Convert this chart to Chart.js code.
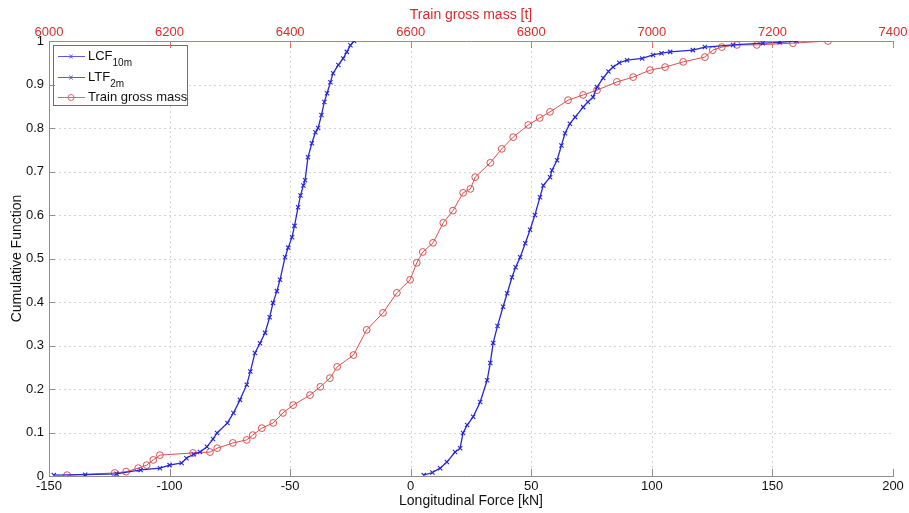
<!DOCTYPE html>
<html><head><meta charset="utf-8">
<script src="https://cdn.jsdelivr.net/npm/chart.js@4.4.0/dist/chart.umd.min.js"></script>
<style>html,body{margin:0;padding:0;background:#fff;}#wrap{position:relative;width:909px;height:513px;}</style>
</head><body><div id="wrap"><canvas id="c" width="909" height="513"></canvas></div>
<script>
// ---- data ----
const forceTicks = [-150,-100,-50,0,50,100,150,200];
const massTicks = [6000,6200,6400,6600,6800,7000,7200,7400];
const cumTicks = [0,0.1,0.2,0.3,0.4,0.5,0.6,0.7,0.8,0.9,1];

const lcfForce = [-148,-135,-122,-112,-104,-100,-95,-93,-90,-87.4,-84.5,-82,-80.3,-76,-73.5,-70.8,-68,-66.5,-64.6,-62.5,-60.4,-58.5,-57.1,-55.5,-54.2,-52.1,-50.8,-49.2,-48.2,-46.7,-45.7,-44.5,-43.8,-42.6,-41,-39.5,-38.4,-37,-35.8,-34.7,-33.3,-32.2,-30,-28,-26.5,-25,-23.5];
const lcfCum = [0.002,0.003,0.005,0.014,0.018,0.025,0.03,0.041,0.05,0.055,0.067,0.085,0.099,0.122,0.145,0.175,0.21,0.24,0.283,0.305,0.329,0.365,0.398,0.425,0.451,0.503,0.525,0.549,0.575,0.618,0.645,0.668,0.68,0.733,0.765,0.79,0.8,0.83,0.86,0.88,0.905,0.926,0.945,0.96,0.975,0.99,1.0];

const ltfForce = [5.4,9,12.2,15,18.4,20.5,21.7,23.4,25.9,28.8,31.7,33,34.2,36,38.3,40,42,43.5,45.4,47.5,49.5,51.5,53.6,55,57.8,58.6,60.7,62.5,64,66,68.2,71.5,73.5,75.6,77.3,79.8,82,83.9,86.5,89.7,96,100.5,104,107.6,117,122,133.7,146,153,160];
const ltfCum = [0.002,0.008,0.018,0.032,0.055,0.064,0.099,0.117,0.136,0.17,0.22,0.26,0.306,0.345,0.389,0.42,0.457,0.48,0.503,0.535,0.566,0.6,0.641,0.668,0.687,0.703,0.726,0.76,0.788,0.81,0.825,0.848,0.86,0.871,0.894,0.915,0.93,0.94,0.95,0.956,0.96,0.968,0.972,0.975,0.979,0.986,0.991,0.995,0.997,1.0];

const trainMass = [6030,6109,6128,6148,6162,6173,6184,6239,6267,6279,6305,6328,6338,6353,6372,6388,6405,6433,6450,6466,6478,6505,6527,6554,6577,6599,6610,6620,6637,6654,6670,6687,6699,6707,6732,6751,6770,6795,6814,6831,6861,6886,6909,6942,6969,6997,7022,7052,7088,7101,7116,7141,7174,7234,7292];
const massCum = [0.002,0.007,0.01,0.018,0.025,0.037,0.048,0.053,0.055,0.064,0.076,0.083,0.094,0.11,0.122,0.145,0.163,0.186,0.205,0.225,0.251,0.278,0.336,0.375,0.421,0.451,0.49,0.515,0.536,0.582,0.61,0.651,0.66,0.687,0.72,0.752,0.779,0.807,0.823,0.837,0.864,0.876,0.887,0.906,0.917,0.933,0.94,0.952,0.963,0.979,0.986,0.991,0.991,0.995,1.0];

const seriesNames = ['LCF','LTF','Train gross mass'];
const seriesSubs = ['10m','2m',''];
const axisTitles = {x:'Longitudinal Force [kN]', x2:'Train gross mass [t]', y:'Cumulative Function'};

// ---- styles ----
const BLUE = 'rgb(38,38,218)';
const RED = 'rgb(222,78,78)';
const RED_TXT = '#e02a2a';
const FONT = '"Liberation Sans", Arial, sans-serif';
const GRID = '#d4d4d4';
const AXIS = '#8c8c8c';
const NONE = 'rgba(0,0,0,0)';

const pts = (xs, ys) => xs.map((x,i)=>({x:x, y:ys[i]}));

// dashed grid (inner lines only) drawn under the data, using the chart's own scales
const dashedGrid = {
  id:'dashedGrid',
  beforeDatasetsDraw(chart){
    const ctx = chart.ctx, a = chart.chartArea, s = chart.scales;
    ctx.save(); ctx.lineWidth = 1; ctx.strokeStyle = GRID; ctx.setLineDash([2,3]);
    forceTicks.slice(1,-1).forEach(v=>{ const p = Math.round(s.x.getPixelForValue(v))+0.5;
      ctx.beginPath(); ctx.moveTo(p,a.top); ctx.lineTo(p,a.bottom); ctx.stroke(); });
    cumTicks.slice(1,-1).forEach(v=>{ const p = Math.round(s.y.getPixelForValue(v))+0.5;
      ctx.beginPath(); ctx.moveTo(a.left,p); ctx.lineTo(a.right,p); ctx.stroke(); });
    ctx.restore();
  }
};

const innerTicks = {
  id:'innerTicks',
  afterDraw(chart){
    const ctx = chart.ctx, a = chart.chartArea, s = chart.scales;
    ctx.save(); ctx.lineWidth = 1;
    ctx.strokeStyle = AXIS;
    forceTicks.forEach(v=>{ const p = Math.round(s.x.getPixelForValue(v))+0.5;
      ctx.beginPath(); ctx.moveTo(p,a.bottom); ctx.lineTo(p,a.bottom-7); ctx.stroke(); });
    cumTicks.forEach(v=>{ const p = Math.round(s.y.getPixelForValue(v))+0.5;
      ctx.beginPath(); ctx.moveTo(a.left,p); ctx.lineTo(a.left+6,p); ctx.stroke(); });
    ctx.strokeStyle = 'rgb(228,110,110)';
    massTicks.forEach(v=>{ const p = Math.round(s.x2.getPixelForValue(v))+0.5;
      ctx.beginPath(); ctx.moveTo(p,a.top); ctx.lineTo(p,a.top+7); ctx.stroke(); });
    ctx.restore();
  }
};

const legendBox = {
  id:'legendBox',
  afterDatasetsDraw(chart){
    const ctx = chart.ctx;
    ctx.save();
    ctx.fillStyle = '#fff'; ctx.strokeStyle = '#6e6e6e'; ctx.lineWidth = 1;
    ctx.fillRect(53.5,45.5,134,60); ctx.strokeRect(53.5,45.5,134,60);
    const rows = [56,77,97];
    const colors = ['rgb(90,90,225)','rgb(90,90,225)','rgb(228,100,100)'];
    rows.forEach((ry,i)=>{
      ctx.strokeStyle = colors[i];
      ctx.beginPath(); ctx.moveTo(58,ry+0.5); ctx.lineTo(85,ry+0.5); ctx.stroke();
      if(i<2){ ctx.beginPath(); ctx.moveTo(69.5,ry-1.5); ctx.lineTo(72.5,ry+2.5); ctx.moveTo(72.5,ry-1.5); ctx.lineTo(69.5,ry+2.5); ctx.stroke(); }
      else { ctx.beginPath(); ctx.arc(71,ry+0.5,3,0,Math.PI*2); ctx.stroke(); }
      ctx.fillStyle = '#111'; ctx.textBaseline = 'middle'; ctx.textAlign = 'left';
      ctx.font = '13px '+FONT;
      ctx.fillText(seriesNames[i],88,ry);
      if(seriesSubs[i]){
        const w = ctx.measureText(seriesNames[i]).width;
        ctx.font = '10px '+FONT;
        ctx.fillText(seriesSubs[i],88+w,ry+7);
      }
    });
    ctx.restore();
  }
};

new Chart(document.getElementById('c'), {
  type:'line',
  data:{ datasets:[
    {label:'LCF10m', data:pts(lcfForce,lcfCum), xAxisID:'x', yAxisID:'y', borderColor:BLUE, backgroundColor:BLUE, borderWidth:1.3,
     pointStyle:'crossRot', pointRadius:3, pointBorderWidth:1.1, pointBorderColor:BLUE, tension:0, fill:false},
    {label:'LTF2m', data:pts(ltfForce,ltfCum), xAxisID:'x', yAxisID:'y', borderColor:BLUE, backgroundColor:BLUE, borderWidth:1.3,
     pointStyle:'crossRot', pointRadius:3, pointBorderWidth:1.1, pointBorderColor:BLUE, tension:0, fill:false},
    {label:'Train gross mass', data:pts(trainMass,massCum), xAxisID:'x2', yAxisID:'y', borderColor:RED, backgroundColor:NONE, borderWidth:1,
     pointStyle:'circle', pointRadius:3.4, pointBorderWidth:1, pointBorderColor:RED, pointBackgroundColor:NONE, tension:0, fill:false}
  ]},
  options:{
    responsive:false, animation:false, devicePixelRatio:1,
    layout:{padding:{left:0,right:16,top:0,bottom:0}},
    plugins:{legend:{display:false}, tooltip:{enabled:false}},
    scales:{
      x:{type:'linear', position:'bottom', min:-150, max:200,
        afterBuildTicks:s=>{s.ticks = forceTicks.map(v=>({value:v}));},
        afterFit:s=>{s.height = 37;},
        ticks:{color:'#111', font:{size:13, family:FONT}, padding:3, maxRotation:0, autoSkip:false, callback:v=>String(v)},
        grid:{display:false, drawTicks:false},
        border:{display:true, color:AXIS},
        title:{display:true, text:axisTitles.x, color:'#111', font:{size:14, family:FONT}, padding:{top:0,bottom:3.6}}
      },
      x2:{type:'linear', position:'top', min:6000, max:7400,
        afterBuildTicks:s=>{s.ticks = massTicks.map(v=>({value:v}));},
        afterFit:s=>{s.height = 41;},
        ticks:{color:RED_TXT, font:{size:13, family:FONT}, padding:1, maxRotation:0, autoSkip:false, callback:v=>String(v)},
        grid:{display:false, drawTicks:false},
        border:{display:true, color:'rgb(228,110,110)'},
        title:{display:true, text:axisTitles.x2, color:RED_TXT, font:{size:14, family:FONT}, padding:{top:6.6,bottom:0}}
      },
      y:{type:'linear', position:'left', min:0, max:1,
        afterBuildTicks:s=>{s.ticks = cumTicks.map(v=>({value:v}));},
        afterFit:s=>{s.width = 49;},
        ticks:{color:'#111', font:{size:13, family:FONT}, padding:5, callback:v=>String(+(+v).toFixed(1))},
        grid:{display:false, drawTicks:false},
        border:{display:true, color:AXIS},
        title:{display:true, text:axisTitles.y, color:'#111', font:{size:14, family:FONT}, padding:{top:8.6,bottom:0}}
      }
    }
  },
  plugins:[dashedGrid, innerTicks, legendBox]
});
</script></body></html>
